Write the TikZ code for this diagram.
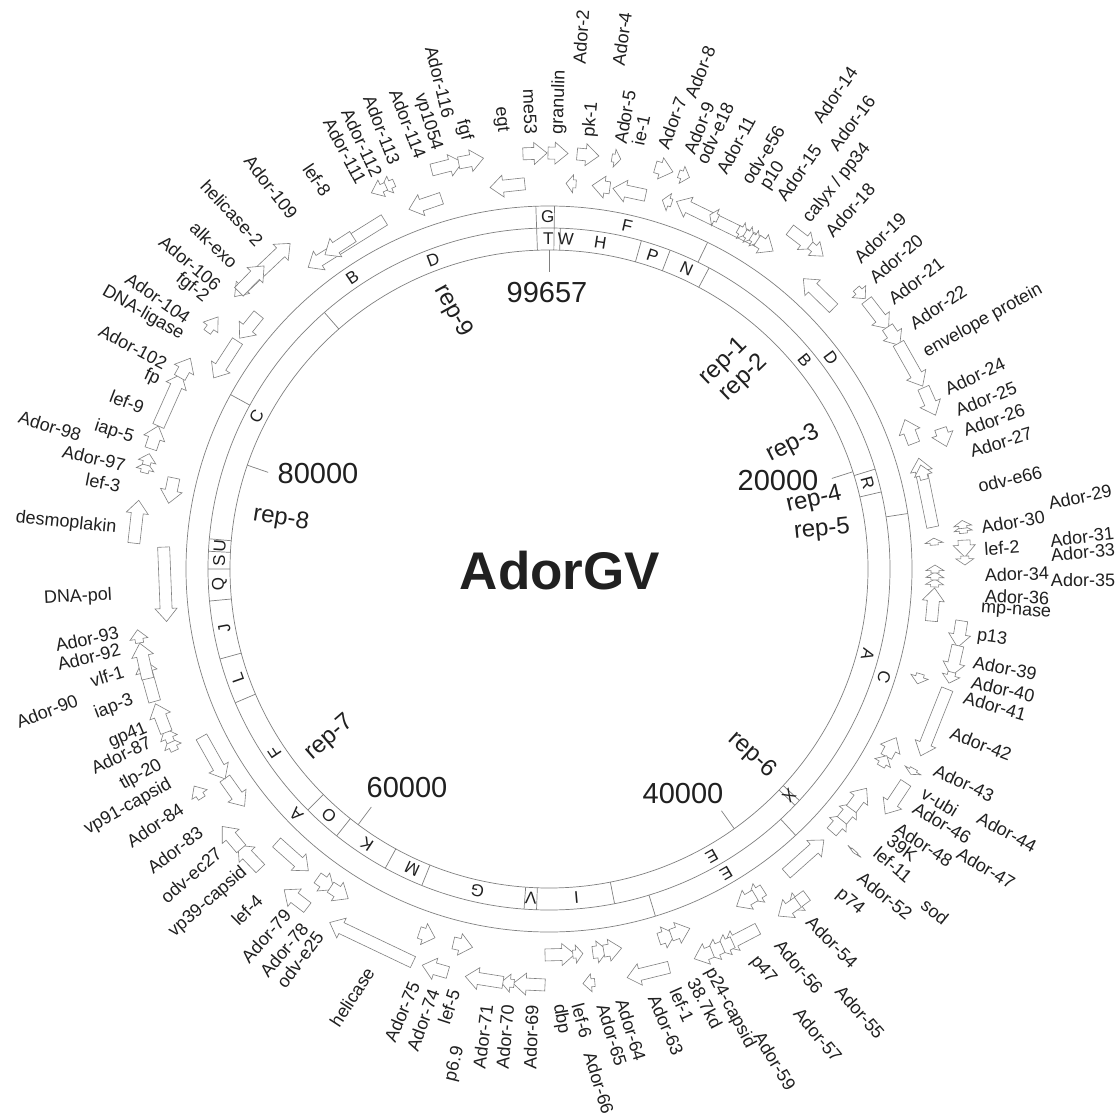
\documentclass[tikz,border=0pt]{standalone}
\usepackage{fontspec}
\setmainfont{Liberation Sans}
\usetikzlibrary{calc}
\definecolor{lc}{HTML}{808080}
\definecolor{tc}{HTML}{202020}
\newcounter{labc}
\tikzset{
  ring/.style={draw=lc, line width=0.7pt},
  garr/.style={draw=lc, fill=white, line width=0.6pt, line join=miter},
  glab/.style={font=\fontsize{18}{18}\selectfont, text=tc, inner sep=0pt},
  rlet/.style={font=\fontsize{17}{17}\selectfont, text=tc, inner sep=0pt},
  ticklab/.style={font=\fontsize{29}{29}\selectfont, text=tc, inner sep=0pt},
  replab/.style={font=\fontsize{24}{24}\selectfont, text=tc, inner sep=0pt}
}
% block arrow along tangent: bw hw r xtail ytail xtip ytip (image px)
\newcommand\drawarr[7]{%
 \pgfmathsetmacro\gaA{atan2(569-#5,#4-549)}%
 \pgfmathsetmacro\gaB{atan2(569-#7,#6-549)}%
 \pgfmathsetmacro\gxA{549+#3*cos(\gaA)}%
 \pgfmathsetmacro\gyA{569-#3*sin(\gaA)}%
 \pgfmathsetmacro\gxB{549+#3*cos(\gaB)}%
 \pgfmathsetmacro\gyB{569-#3*sin(\gaB)}%
 \pgfmathsetmacro\glen{veclen(\gxB-\gxA,\gyB-\gyA)}%
 \pgfmathsetmacro\gdir{atan2(\gyA-\gyB,\gxB-\gxA)}%
 \pgfmathsetmacro\ghl{min(13,0.7*\glen)}%
 \pgfmathsetmacro\gbl{\glen-\ghl}%
 \draw[garr,shift={(\gxA,\gyA)},rotate=\gdir] (0,-#1) -- (\gbl,-#1) -- (\gbl,-#2) -- (\glen,0) -- (\gbl,#2) -- (\gbl,#1) -- (0,#1) -- cycle;}
\newcommand\ga[5]{\drawarr{6}{11}{#1}{#2}{#3}{#4}{#5}}
\newcommand\sa[5]{\drawarr{4}{9}{#1}{#2}{#3}{#4}{#5}}
% radial boundary line at position #1 (kb) from r=#2 to r=#3
\newcommand\bd[3]{%
 \pgfmathsetmacro\bph{90-(#1/99.657)*360}%
 \draw[ring] ({549+#2*cos(\bph)},{569-#2*sin(\bph)}) -- ({549+#3*cos(\bph)},{569-#3*sin(\bph)});}
% ring letter at position #1 (kb), radius #2
\newcommand\rl[3]{%
 \pgfmathsetmacro\bph{90-(#1/99.657)*360}%
 \stepcounter{labc}%
 \node[rlet,rotate=\bph-90] (r\thelabc) at ({549+#2*cos(\bph)},{569-#2*sin(\bph)}) {#3};}
% gene label
\newcommand\gl[4]{\stepcounter{labc}\node[glab,rotate=#3] (g\thelabc) at (#1,#2) {#4};}

\begin{document}
\begin{tikzpicture}[x=1pt,y=-1pt]
\useasboundingbox (0,0) rectangle (1116,1115);
\fill[white] (0,0) rectangle (1116,1115);
\coordinate (c) at (549,569);
% rings
\draw[ring] (c) circle[radius=319pt];
\draw[ring] (c) circle[radius=341pt];
\draw[ring] (c) circle[radius=363pt];
% outer ring boundaries
\foreach \p in {99.08,0.24,7.17,22.48,37.98,45.11,82.69} {\bd{\p}{341}{363}}
% inner ring boundaries
\foreach \p in {99.08,0.24,0.53,4.35,5.76,7.75,20.2,21.3,36.75,37.05,46.76,50.41,50.99,55.89,57.77,60.49,62.29,68.35,70.51,73.25,74.74,75.57,76.15,88.25} {\bd{\p}{319}{341}}
% ticks
\foreach \p in {0,20,40,60,80} {\bd{\p}{297}{319}}
% outer ring letters
\rl{99.6}{352}{G}\rl{3.56}{352}{F}\rl{14.73}{352}{D}\rl{29.87}{352}{C}
\rl{41.47}{352}{E}\rl{62.53}{352}{A}\rl{90.25}{352}{B}
% inner ring letters
\rl{99.62}{330}{T}\rl{0.8}{330}{W}\rl{2.48}{330}{H}\rl{5.07}{330}{P}\rl{6.83}{330}{N}
\rl{14.06}{330}{B}\rl{20.75}{330}{R}\rl{29.06}{330}{A}\rl{36.9}{330}{X}\rl{41.65}{330}{E}
\rl{48.5}{330}{I}\rl{50.7}{330}{V}\rl{53.3}{330}{G}\rl{56.6}{330}{M}\rl{59.1}{330}{K}
\rl{61.4}{330}{O}\rl{65.4}{330}{F}\rl{69.4}{330}{L}\rl{71.85}{330}{J}\rl{74.0}{330}{Q}
\rl{75.15}{330}{S}\rl{75.86}{330}{U}\rl{82.39}{330}{C}\rl{93.96}{330}{D}
% tick labels
\node[ticklab] (t0) at (547,293) {99657};
\node[ticklab] (t20) at (778,481) {20000};
\node[ticklab] (t40) at (683,794) {40000};
\node[ticklab] (t60) at (407,788) {60000};
\node[ticklab] (t80) at (318,474) {80000};
% rep labels
\node[replab,rotate=44] (rep1) at (724,362) {rep-1};
\node[replab,rotate=44] (rep2) at (744,378) {rep-2};
\node[replab,rotate=27] (rep3) at (793,444) {rep-3};
\node[replab,rotate=13] (rep4) at (814,500) {rep-4};
\node[replab,rotate=6] (rep5) at (822,530) {rep-5};
\node[replab,rotate=-42] (rep6) at (752,755) {rep-6};
\node[replab,rotate=41] (rep7) at (330,738) {rep-7};
\node[replab,rotate=-9] (rep8) at (281,519) {rep-8};
\node[replab,rotate=-61] (rep9) at (453,311) {rep-9};
% title
\node[font=\bfseries\fontsize{53}{53}\selectfont, text=tc, inner sep=0pt] (title) at (560,571) {AdorGV};
% gene arrows (track radius, tail, tip)
\ga{386}{525}{187}{490}{187}
\ga{416}{523}{155}{547}{155}
\ga{416}{548}{155}{568}{155}
\sa{386}{576}{185}{566}{185}
\ga{416}{577}{155}{599}{155}
\ga{386}{610}{187}{592}{187}
\sa{416}{612}{157}{621}{158}
\ga{386}{647}{190}{613}{188}
\ga{416}{655}{168}{672}{175}
\sa{416}{680}{170}{690}{176}
\sa{386}{672}{202}{663}{198}
\ga{389}{760}{240}{677}{200}
\sa{389}{720}{214}{712}{210}
\sa{389}{741}{224}{750}{229}
\sa{389}{748}{228}{757}{233}
\sa{389}{754}{232}{763}{237}
\ga{389}{760}{236}{776}{247}
\ga{416}{789}{231}{815}{248}
\sa{416}{812}{243}{826}{253}
\ga{386}{836}{306}{803}{279}
\sa{416}{857}{288}{866}{298}
\ga{416}{867}{300}{891}{327}
\ga{416}{889}{326}{905}{342}
\ga{416}{899}{343}{925}{385}
\ga{416}{927}{386}{941}{413}
\ga{386}{912}{444}{904}{420}
\ga{416}{942}{428}{948}{446}
\ga{386}{934}{527}{916}{459}
\sa{386}{922}{480}{917}{466}
\sa{416}{966}{533}{966}{525}
\sa{416}{966}{528}{966}{520}
\sa{386}{935}{545}{935}{538}
\ga{416}{966}{540}{966}{557}
\sa{416}{967}{556}{967}{565}
\sa{386}{935}{587}{935}{579}
\sa{386}{935}{580}{935}{572}
\sa{386}{935}{573}{935}{565}
\ga{386}{938}{622}{936}{588}
\ga{416}{963}{621}{961}{648}
\ga{416}{960}{646}{955}{677}
\sa{416}{955}{673}{952}{684}
\sa{386}{921}{674}{918}{684}
\ga{416}{950}{690}{925}{758}
\ga{386}{889}{758}{899}{739}
\sa{386}{884}{768}{891}{758}
\sa{416}{909}{766}{919}{779}
\ga{416}{906}{783}{888}{816}
\ga{386}{835}{835}{850}{818}
\ga{386}{845}{823}{860}{806}
\ga{386}{855}{812}{872}{792}
\sa{416}{852}{848}{859}{858}
\ga{386}{789}{877}{826}{842}
\ga{416}{808}{897}{790}{912}
\ga{416}{800}{905}{781}{920}
\ga{386}{762}{888}{748}{899}
\ga{386}{755}{895}{738}{909}
\ga{416}{758}{929}{726}{952}
\ga{416}{733}{943}{718}{955}
\ga{416}{724}{950}{708}{961}
\ga{416}{714}{956}{697}{966}
\ga{386}{660}{943}{676}{936}
\ga{386}{672}{938}{690}{929}
\ga{416}{669}{967}{628}{982}
\ga{386}{593}{955}{608}{953}
\ga{386}{604}{953}{622}{950}
\sa{416}{595}{984}{583}{984}
\ga{386}{545}{958}{575}{956}
\sa{386}{573}{957}{583}{955}
\ga{416}{545}{985}{513}{985}
\sa{416}{514}{984}{501}{983}
\ga{416}{503}{982}{465}{978}
\ga{386}{452}{948}{472}{950}
\ga{416}{448}{972}{422}{966}
\ga{386}{418}{936}{434}{941}
\ga{416}{413}{962}{328}{925}
\ga{386}{316}{880}{333}{891}
\ga{386}{330}{888}{348}{899}
\ga{416}{305}{911}{284}{890}
\ga{386}{274}{845}{305}{875}
\ga{416}{258}{871}{235}{848}
\ga{416}{241}{849}{219}{829}
\ga{386}{221}{781}{245}{806}
\sa{416}{202}{798}{191}{788}
\ga{386}{197}{739}{225}{779}
\sa{416}{172}{752}{164}{740}
\sa{416}{167}{744}{159}{731}
\ga{416}{160}{735}{149}{706}
\ga{416}{150}{703}{140}{660}
\ga{416}{143}{680}{136}{644}
\sa{416}{139}{643}{136}{630}
\ga{386}{162}{547}{163}{622}
\ga{416}{132}{543}{137}{500}
\ga{386}{170}{477}{167}{503}
\sa{416}{145}{473}{146}{462}
\sa{416}{146}{465}{147}{453}
\ga{416}{145}{447}{153}{424}
\ga{416}{153}{424}{183}{375}
\ga{416}{175}{375}{190}{358}
\ga{386}{236}{340}{212}{377}
\ga{386}{258}{314}{242}{340}
\sa{416}{203}{329}{217}{316}
\sa{416}{246}{283}{235}{297}
\ga{416}{237}{290}{297}{252}
\ga{416}{237}{290}{268}{270}
\ga{386}{383}{217}{307}{266}
\ga{386}{352}{235}{323}{252}
\ga{386}{442}{200}{410}{212}
\sa{416}{393}{180}{380}{186}
\sa{416}{385}{184}{370}{190}
\ga{416}{430}{165}{462}{160}
\ga{416}{458}{160}{483}{155}
% gene labels
\gl{440}{82}{-76}{Ador-116}
\gl{428}{122}{-73}{vp1054}
\gl{408}{124}{-69}{Ador-114}
\gl{382}{130}{-69}{Ador-113}
\gl{362}{143}{-65}{Ador-112}
\gl{345}{151}{-62}{Ador-111}
\gl{464}{130}{-75}{fgf}
\gl{501}{120}{-84}{egt}
\gl{530}{112}{-88}{me53}
\gl{559}{102}{88}{granulin}
\gl{581}{37}{86}{Ador-2}
\gl{591}{120}{85}{pk-1}
\gl{622}{39}{82}{Ador-4}
\gl{625}{117}{80}{Ador-5}
\gl{641}{130}{78}{ie-1}
\gl{672}{123}{70}{Ador-7}
\gl{700}{72}{68}{Ador-8}
\gl{699}{128}{68}{Ador-9}
\gl{715}{133}{65}{odv-e18}
\gl{736}{145}{62}{Ador-11}
\gl{763}{155}{58}{odv-e56}
\gl{773}{176}{57}{p10}
\gl{799}{173}{55}{Ador-15}
\gl{835}{95}{55}{Ador-14}
\gl{852}{123}{53}{Ador-16}
\gl{837}{183}{51}{calyx / pp34}
\gl{850}{210}{48}{Ador-18}
\gl{880}{238}{44}{Ador-19}
\gl{896}{259}{41}{Ador-20}
\gl{916}{281}{37}{Ador-21}
\gl{938}{307}{34}{Ador-22}
\gl{983}{321}{29}{envelope protein}
\gl{975}{376}{25}{Ador-24}
\gl{986}{399}{22}{Ador-25}
\gl{994}{420}{20}{Ador-26}
\gl{1001}{442}{17}{Ador-27}
\gl{1010}{479}{13}{odv-e66}
\gl{1080}{497}{12}{Ador-29}
\gl{1013}{522}{10}{Ador-30}
\gl{1082}{537}{7}{Ador-31}
\gl{1083}{552}{5}{Ador-33}
\gl{1002}{548}{4}{lef-2}
\gl{1017}{574}{2}{Ador-34}
\gl{1083}{580}{0}{Ador-35}
\gl{1017}{597}{-2}{Ador-36}
\gl{1016}{612}{-4}{mp-nase}
\gl{992}{638}{-8}{p13}
\gl{1005}{668}{-11}{Ador-39}
\gl{1003}{689}{-13}{Ador-40}
\gl{995}{706}{-16}{Ador-41}
\gl{981}{744}{-21}{Ador-42}
\gl{964}{783}{-25}{Ador-43}
\gl{940}{802}{-31}{v-ubi}
\gl{1007}{832}{-28}{Ador-44}
\gl{942}{823}{-31}{Ador-46}
\gl{986}{868}{-31}{Ador-47}
\gl{924}{845}{-33}{Ador-48}
\gl{902}{848}{-37}{39K}
\gl{893}{865}{-40}{lef-11}
\gl{885}{896}{-39}{Ador-52}
\gl{935}{912}{-39}{sod}
\gl{850}{902}{-40}{p74}
\gl{832}{942}{-45}{Ador-54}
\gl{860}{1012}{-49}{Ador-55}
\gl{799}{967}{-50}{Ador-56}
\gl{818}{1035}{-50}{Ador-57}
\gl{763}{970}{-51}{p47}
\gl{775}{1061}{-59}{Ador-59}
\gl{730}{1008}{-62}{p24-capsid}
\gl{705}{1003}{-62}{38.7kd}
\gl{682}{1005}{-66}{lef-1}
\gl{666}{1025}{-67}{Ador-63}
\gl{631}{1030}{-73}{Ador-64}
\gl{612}{1035}{-73}{Ador-65}
\gl{599}{1083}{-73}{Ador-66}
\gl{582}{1021}{-75}{lef-6}
\gl{561}{1019}{-80}{dbp}
\gl{531}{1037}{88}{Ador-69}
\gl{505}{1037}{85}{Ador-70}
\gl{483}{1037}{83}{Ador-71}
\gl{455}{1064}{76}{p6.9}
\gl{449}{1007}{72}{lef-5}
\gl{423}{1020}{70}{Ador-74}
\gl{402}{1012}{67}{Ador-75}
\gl{352}{997}{57}{helicase}
\gl{300}{960}{53}{odv-e25}
\gl{284}{950}{50}{Ador-78}
\gl{266}{936}{48}{Ador-79}
\gl{247}{910}{45}{lef-4}
\gl{208}{902}{41}{vp39-capsid}
\gl{191}{875}{41}{odv-ec27}
\gl{175}{850}{37}{Ador-83}
\gl{155}{825}{34}{Ador-84}
\gl{128}{807}{29.5}{vp91-capsid}
\gl{141}{775}{29}{tlp-20}
\gl{121}{755}{26}{Ador-87}
\gl{128}{736}{23}{gp41}
\gl{47}{711}{21}{Ador-90}
\gl{114}{707}{21}{iap-3}
\gl{107}{676}{17}{vlf-1}
\gl{89}{657}{14}{Ador-92}
\gl{87}{639}{12}{Ador-93}
\gl{78}{597}{3}{DNA-pol}
\gl{66}{523}{-6}{desmoplakin}
\gl{103}{483}{-11}{lef-3}
\gl{94}{458}{-13}{Ador-97}
\gl{50}{426}{-17}{Ador-98}
\gl{114}{432}{-18}{iap-5}
\gl{127}{402}{-21}{lef-9}
\gl{152}{377}{-25}{fp}
\gl{133}{347}{-28}{Ador-102}
\gl{143}{313}{-30}{DNA-ligase}
\gl{158}{298}{-35}{Ador-104}
\gl{192}{288}{-39}{fgf-2}
\gl{190}{263}{-40}{Ador-106}
\gl{214}{245}{-44}{alk-exo}
\gl{232}{213}{-47}{helicase-2}
\gl{271}{187}{-52}{Ador-109}
\gl{317}{180}{-56}{lef-8}
\end{tikzpicture}
\end{document}
